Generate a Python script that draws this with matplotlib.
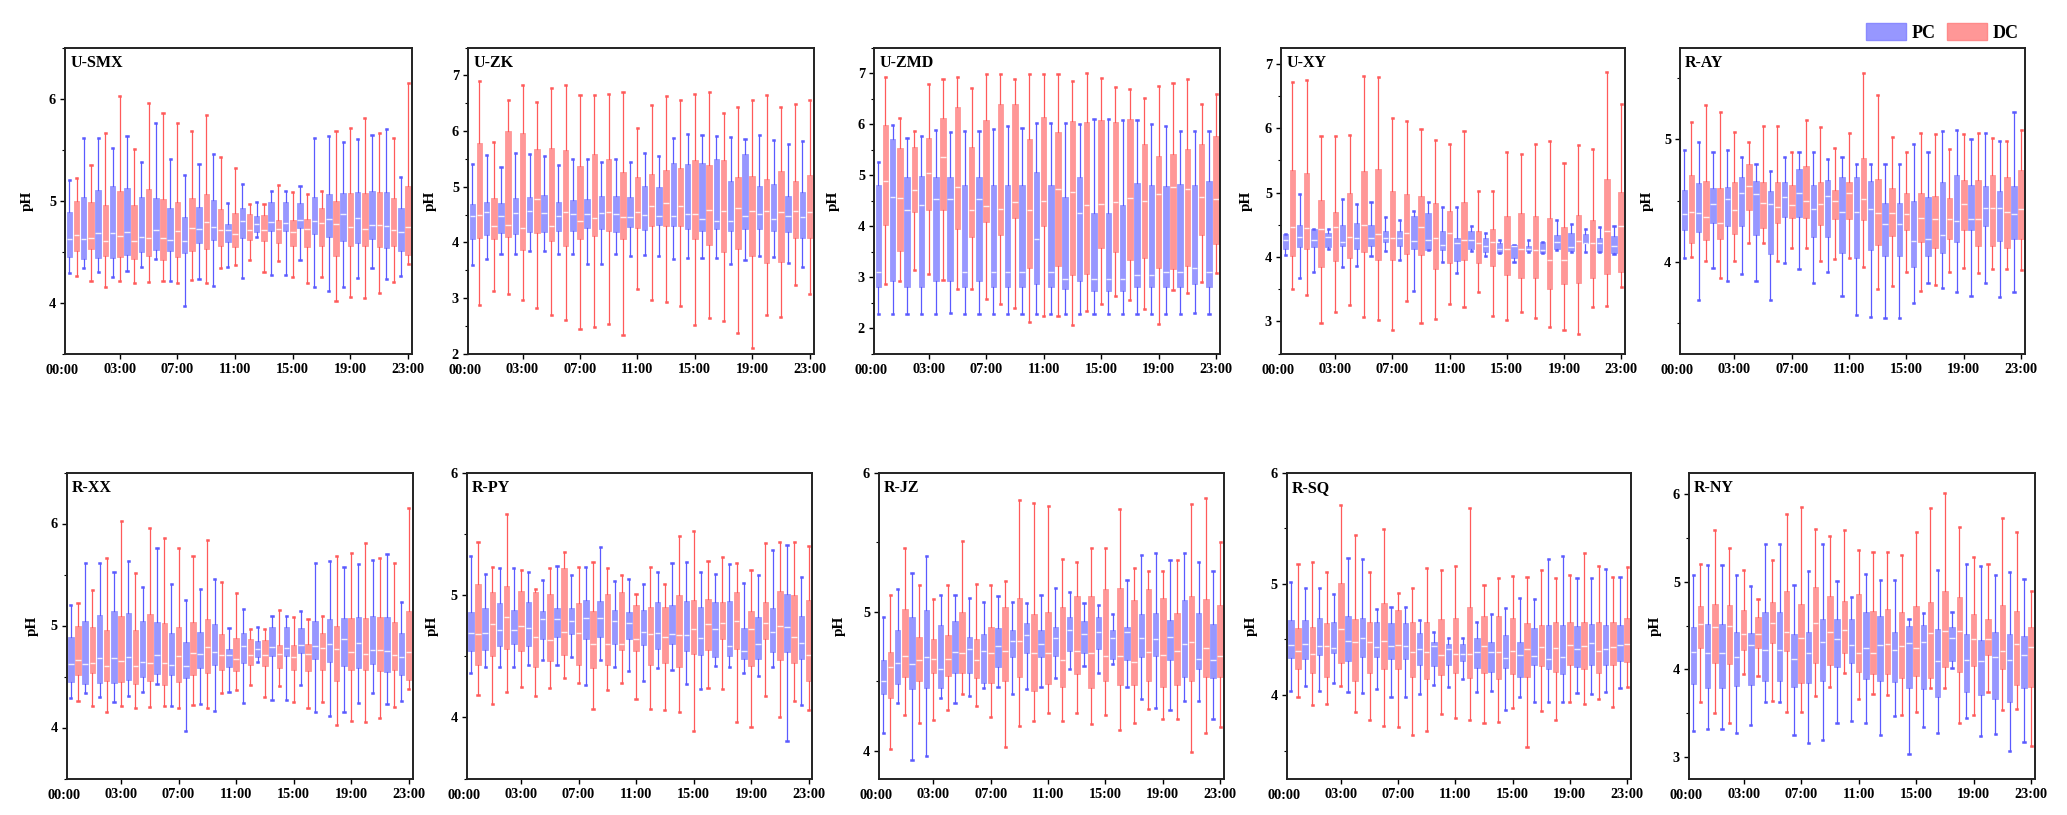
import matplotlib
matplotlib.use('Agg')
import matplotlib.pyplot as plt
from matplotlib.patches import Patch
from matplotlib.ticker import MultipleLocator

plt.rcParams['font.family'] = ['Liberation Serif', 'DejaVu Serif']
plt.rcParams['font.weight'] = 'bold'
plt.rcParams['axes.labelweight'] = 'bold'

# x axis labels (tick at 0 is drawn by hand, it sits just left of the frame)
tick_pos = [0, 4, 8, 12, 16, 20, 24]
tick_lab = ['00:00', '03:00', '07:00', '11:00', '15:00', '19:00', '23:00']

# every row: [whisker low, Q1, median, Q3, whisker high], one row per hour 0..23
USMX_PC = [
    [4.29, 4.45, 4.62, 4.89, 5.20], [4.34, 4.43, 4.62, 5.04, 5.61], [4.30, 4.44, 4.68, 5.10, 5.61],
    [4.25, 4.44, 4.68, 5.14, 5.52], [4.31, 4.47, 4.69, 5.12, 5.63], [4.35, 4.50, 4.64, 5.04, 5.38],
    [4.43, 4.52, 4.71, 5.03, 5.76], [4.21, 4.51, 4.61, 4.93, 5.41], [3.97, 4.49, 4.60, 4.84, 5.25],
    [4.23, 4.58, 4.72, 4.94, 5.36], [4.16, 4.61, 4.74, 5.01, 5.46], [4.35, 4.59, 4.71, 4.77, 4.98],
    [4.24, 4.63, 4.80, 4.93, 5.16], [4.64, 4.69, 4.77, 4.85, 4.99], [4.27, 4.70, 4.79, 4.99, 5.09],
    [4.27, 4.70, 4.78, 4.99, 5.09], [4.42, 4.73, 4.81, 4.98, 5.14], [4.15, 4.67, 4.80, 5.04, 5.61],
    [4.11, 4.64, 4.82, 5.06, 5.63], [4.15, 4.60, 4.87, 5.07, 5.57], [4.24, 4.58, 4.83, 5.08, 5.60],
    [4.34, 4.62, 4.76, 5.09, 5.64], [4.23, 4.54, 4.75, 5.08, 5.70], [4.26, 4.51, 4.69, 4.93, 5.23],
]
USMX_DC = [
    [4.26, 4.51, 4.66, 5.00, 5.22], [4.21, 4.53, 4.63, 4.99, 5.35], [4.15, 4.46, 4.60, 4.96, 5.66],
    [4.21, 4.45, 4.65, 5.09, 6.02], [4.19, 4.43, 4.60, 4.96, 5.51], [4.20, 4.46, 4.63, 5.11, 5.96],
    [4.21, 4.42, 4.63, 5.02, 5.86], [4.19, 4.45, 4.70, 4.99, 5.76], [4.22, 4.51, 4.73, 5.03, 5.68],
    [4.19, 4.53, 4.79, 5.06, 5.84], [4.34, 4.56, 4.71, 4.92, 5.43], [4.37, 4.55, 4.67, 4.88, 5.32],
    [4.42, 4.61, 4.71, 4.87, 4.97], [4.30, 4.60, 4.71, 4.86, 4.97], [4.41, 4.58, 4.72, 4.81, 5.15],
    [4.25, 4.56, 4.69, 4.81, 5.08], [4.19, 4.55, 4.72, 4.82, 5.06], [4.25, 4.56, 4.78, 4.93, 5.09],
    [4.02, 4.46, 4.77, 5.00, 5.68], [4.06, 4.56, 4.74, 5.07, 5.71], [4.05, 4.56, 4.72, 5.07, 5.81],
    [4.09, 4.55, 4.76, 5.08, 5.66], [4.20, 4.56, 4.71, 5.03, 5.61], [4.38, 4.47, 4.74, 5.14, 6.15],
]

UZK_PC = [
    [3.60, 4.06, 4.48, 4.69, 5.40], [3.70, 4.14, 4.54, 4.73, 5.57], [3.79, 4.17, 4.48, 4.70, 5.35],
    [3.79, 4.15, 4.52, 4.79, 5.61], [3.84, 4.18, 4.56, 4.82, 5.59], [3.84, 4.18, 4.52, 4.85, 5.55],
    [3.79, 4.21, 4.48, 4.73, 5.39], [3.79, 4.21, 4.51, 4.76, 5.50], [3.61, 4.26, 4.51, 4.77, 5.49],
    [3.61, 4.24, 4.52, 4.84, 5.45], [3.79, 4.18, 4.51, 4.83, 5.50], [3.75, 4.27, 4.46, 4.82, 5.45],
    [3.77, 4.23, 4.49, 5.01, 5.61], [3.75, 4.31, 4.48, 5.00, 5.55], [3.70, 4.29, 4.48, 5.43, 5.88],
    [3.72, 4.24, 4.51, 5.41, 5.95], [3.72, 4.20, 4.42, 5.42, 5.93], [3.72, 4.24, 4.38, 5.49, 5.91],
    [3.61, 4.20, 4.38, 5.10, 5.89], [3.68, 4.24, 4.48, 5.59, 5.86], [3.76, 4.24, 4.51, 5.01, 5.93],
    [3.74, 4.20, 4.42, 5.04, 5.83], [3.63, 4.19, 4.48, 4.83, 5.77], [3.55, 4.07, 4.45, 4.90, 5.82],
]
UZK_DC = [
    [2.87, 4.08, 4.49, 5.78, 6.89], [3.13, 4.06, 4.30, 4.79, 5.81], [3.08, 4.09, 4.31, 6.00, 6.56],
    [2.96, 3.86, 4.26, 5.96, 6.83], [2.82, 4.17, 4.77, 5.67, 6.52], [2.70, 4.03, 4.30, 5.70, 6.77],
    [2.61, 3.93, 4.55, 5.66, 6.82], [2.45, 4.06, 4.39, 5.38, 6.65], [2.48, 4.12, 4.43, 5.59, 6.65],
    [2.54, 4.20, 4.54, 5.49, 6.67], [2.33, 4.06, 4.46, 5.27, 6.70], [3.17, 4.26, 4.54, 5.18, 6.05],
    [2.97, 4.30, 4.66, 5.22, 6.46], [2.93, 4.30, 4.70, 5.30, 6.62], [2.85, 4.29, 4.66, 5.33, 6.55],
    [2.52, 4.06, 4.51, 5.48, 6.66], [2.65, 3.96, 4.58, 5.39, 6.70], [2.59, 3.82, 4.57, 5.48, 6.33],
    [2.38, 3.88, 4.61, 5.18, 6.44], [2.11, 3.76, 4.57, 5.19, 6.56], [2.69, 3.63, 4.57, 5.14, 6.64],
    [2.66, 3.64, 4.54, 5.28, 6.43], [3.23, 4.07, 4.57, 5.10, 6.48], [3.08, 4.07, 4.55, 5.21, 6.56],
]

UZMD_PC = [
    [2.27, 2.81, 3.10, 4.81, 5.25], [2.27, 2.92, 4.58, 5.71, 5.99], [2.27, 2.80, 4.31, 4.96, 5.73],
    [2.27, 2.80, 4.42, 4.99, 5.76], [2.27, 2.92, 4.53, 4.96, 5.88], [2.30, 2.92, 4.53, 4.96, 5.84],
    [2.27, 2.80, 3.10, 4.81, 5.86], [2.27, 2.92, 4.53, 4.96, 5.86], [2.27, 2.80, 3.10, 4.81, 5.90],
    [2.27, 2.80, 3.10, 4.81, 5.96], [2.27, 2.80, 3.10, 4.81, 5.92], [2.27, 2.86, 3.75, 5.07, 6.02],
    [2.27, 2.80, 3.10, 4.81, 6.03], [2.27, 2.77, 2.97, 4.58, 6.02], [2.27, 2.92, 4.26, 4.96, 6.01],
    [2.27, 2.73, 2.97, 4.26, 6.09], [2.27, 2.73, 2.97, 4.26, 6.09], [2.27, 2.73, 2.97, 4.42, 6.08],
    [2.27, 2.80, 3.04, 4.84, 6.08], [2.27, 2.80, 3.04, 4.81, 6.00], [2.27, 2.80, 3.10, 4.78, 5.97],
    [2.27, 2.80, 3.10, 4.83, 5.86], [2.30, 2.86, 3.18, 4.81, 5.86], [2.27, 2.80, 3.10, 4.88, 5.86],
]
UZMD_DC = [
    [2.87, 4.02, 4.89, 5.99, 6.92], [2.93, 3.51, 4.55, 5.53, 6.11], [3.14, 4.27, 4.71, 5.56, 5.87],
    [3.06, 4.32, 5.04, 5.73, 6.79], [2.95, 4.32, 5.36, 6.12, 6.88], [2.77, 3.95, 4.77, 6.33, 6.93],
    [2.77, 3.79, 4.32, 5.56, 6.71], [2.57, 4.09, 4.40, 6.07, 6.99], [2.47, 3.82, 4.34, 6.39, 6.99],
    [2.40, 4.16, 4.47, 6.39, 6.88], [2.12, 3.18, 4.31, 5.71, 6.99], [2.24, 4.00, 4.50, 6.14, 6.99],
    [2.24, 3.21, 4.73, 5.84, 6.99], [2.06, 3.04, 4.66, 6.05, 6.84], [2.33, 3.07, 4.42, 6.04, 7.00],
    [2.48, 3.57, 4.44, 6.07, 6.90], [2.63, 3.49, 4.47, 6.04, 6.73], [2.56, 3.33, 4.55, 6.09, 6.68],
    [2.37, 3.38, 4.49, 5.61, 6.52], [2.09, 3.18, 4.63, 5.38, 6.75], [2.74, 3.15, 4.77, 5.41, 6.80],
    [2.69, 3.21, 4.72, 5.52, 6.88], [2.90, 3.83, 4.57, 5.61, 6.39], [3.08, 3.65, 4.54, 5.77, 6.58],
]

UXY_PC = [
    [4.03, 4.12, 4.27, 4.35, 4.36], [3.67, 4.16, 4.31, 4.49, 4.98], [3.76, 4.16, 4.26, 4.43, 4.43],
    [4.13, 4.16, 4.31, 4.38, 4.43], [3.84, 4.17, 4.24, 4.49, 4.90], [3.86, 4.12, 4.30, 4.53, 4.83],
    [4.02, 4.17, 4.29, 4.49, 4.85], [4.09, 4.24, 4.30, 4.41, 4.62], [3.96, 4.17, 4.29, 4.40, 4.58],
    [3.47, 4.13, 4.25, 4.63, 4.71], [4.11, 4.11, 4.26, 4.68, 4.85], [3.93, 4.11, 4.18, 4.41, 4.77],
    [3.75, 3.94, 4.21, 4.29, 4.77], [4.10, 4.13, 4.26, 4.41, 4.48], [4.01, 4.07, 4.17, 4.29, 4.37],
    [4.06, 4.06, 4.13, 4.22, 4.27], [3.92, 3.99, 4.17, 4.18, 4.18], [4.07, 4.10, 4.12, 4.17, 4.27],
    [4.06, 4.06, 4.11, 4.23, 4.24], [4.11, 4.13, 4.24, 4.34, 4.57], [4.07, 4.09, 4.15, 4.38, 4.51],
    [4.07, 4.21, 4.21, 4.35, 4.43], [4.07, 4.08, 4.22, 4.30, 4.46], [4.05, 4.06, 4.17, 4.32, 4.48],
]
UXY_DC = [
    [3.50, 4.02, 4.47, 5.35, 6.72], [3.41, 4.12, 4.45, 5.31, 6.74], [2.97, 3.85, 4.43, 4.89, 5.87],
    [3.14, 3.94, 4.46, 4.70, 5.87], [3.26, 3.99, 4.31, 5.00, 5.90], [3.07, 4.07, 4.49, 5.33, 6.81],
    [3.03, 3.96, 4.35, 5.37, 6.80], [2.86, 3.95, 4.29, 5.02, 6.15], [3.31, 4.04, 4.38, 4.97, 6.11],
    [2.98, 4.03, 4.46, 4.94, 5.99], [3.04, 3.82, 4.29, 4.84, 5.82], [3.27, 3.90, 4.37, 4.72, 5.76],
    [3.22, 3.96, 4.26, 4.85, 5.96], [3.46, 3.91, 4.21, 4.41, 5.02], [3.09, 3.86, 4.24, 4.43, 5.03],
    [3.02, 3.72, 4.13, 4.63, 5.63], [3.15, 3.67, 4.13, 4.69, 5.60], [3.06, 3.67, 4.11, 4.63, 5.76],
    [2.91, 3.51, 3.96, 4.61, 5.80], [2.87, 3.58, 3.96, 4.46, 5.46], [2.81, 3.59, 4.25, 4.65, 5.74],
    [3.23, 3.68, 4.22, 4.57, 5.68], [3.24, 3.73, 4.41, 5.21, 6.87], [3.54, 3.77, 4.48, 5.01, 6.37],
]

RAY_PC = [
    [4.03, 4.26, 4.39, 4.59, 4.91], [3.69, 4.24, 4.40, 4.64, 4.98], [3.95, 4.32, 4.47, 4.60, 4.90],
    [3.84, 4.29, 4.51, 4.61, 4.91], [3.90, 4.29, 4.56, 4.69, 4.86], [3.84, 4.22, 4.55, 4.66, 4.80],
    [3.69, 4.06, 4.47, 4.58, 4.74], [3.99, 4.37, 4.53, 4.65, 4.86], [3.94, 4.37, 4.56, 4.76, 4.90],
    [3.83, 4.20, 4.43, 4.63, 4.90], [3.92, 4.20, 4.54, 4.67, 4.84], [3.72, 4.07, 4.41, 4.69, 4.86],
    [3.57, 4.03, 4.41, 4.69, 4.80], [3.55, 4.10, 4.43, 4.66, 4.80], [3.54, 4.05, 4.31, 4.48, 4.80],
    [3.54, 4.05, 4.31, 4.48, 4.80], [3.66, 3.96, 4.17, 4.50, 4.96], [3.83, 4.05, 4.19, 4.53, 4.90],
    [3.79, 4.07, 4.22, 4.65, 5.07], [3.75, 4.16, 4.33, 4.71, 5.08], [3.72, 4.26, 4.35, 4.63, 5.00],
    [3.83, 4.29, 4.44, 4.62, 5.05], [3.71, 4.17, 4.44, 4.58, 4.99], [3.75, 4.19, 4.39, 4.62, 5.22],
]
RAY_DC = [
    [4.04, 4.15, 4.41, 4.71, 5.14], [4.01, 4.18, 4.37, 4.66, 5.28], [3.87, 4.19, 4.32, 4.60, 5.22],
    [4.01, 4.23, 4.42, 4.65, 5.06], [4.15, 4.42, 4.62, 4.80, 4.98], [4.15, 4.28, 4.48, 4.65, 5.11],
    [4.01, 4.32, 4.45, 4.65, 5.11], [4.11, 4.36, 4.46, 4.63, 4.90], [4.11, 4.36, 4.50, 4.78, 5.16],
    [4.01, 4.30, 4.47, 4.65, 5.10], [4.02, 4.35, 4.50, 4.59, 4.93], [4.03, 4.35, 4.56, 4.65, 5.05],
    [3.96, 4.34, 4.51, 4.85, 5.54], [3.78, 4.14, 4.40, 4.68, 5.36], [3.80, 4.21, 4.40, 4.60, 5.02],
    [3.92, 4.26, 4.39, 4.56, 4.90], [3.76, 4.16, 4.36, 4.56, 5.05], [3.81, 4.11, 4.35, 4.54, 5.04],
    [3.92, 4.19, 4.35, 4.52, 4.92], [3.95, 4.26, 4.47, 4.67, 5.04], [3.91, 4.13, 4.35, 4.67, 5.05],
    [3.94, 4.13, 4.44, 4.71, 5.01], [3.94, 4.11, 4.41, 4.69, 4.99], [3.93, 4.19, 4.43, 4.75, 5.08],
]

RPY_PC = [
    [4.36, 4.54, 4.69, 4.86, 5.32], [4.41, 4.55, 4.69, 4.89, 5.17], [4.41, 4.58, 4.71, 4.93, 5.22],
    [4.41, 4.60, 4.71, 4.88, 5.22], [4.43, 4.58, 4.73, 4.94, 5.19], [4.47, 4.64, 4.80, 4.87, 5.12],
    [4.43, 4.66, 4.80, 4.89, 5.24], [4.49, 4.68, 4.79, 4.89, 5.16], [4.26, 4.64, 4.81, 4.96, 5.23],
    [4.47, 4.66, 4.81, 4.95, 5.39], [4.41, 4.60, 4.79, 4.88, 5.11], [4.38, 4.64, 4.77, 4.86, 5.13],
    [4.30, 4.59, 4.70, 4.88, 5.09], [4.40, 4.56, 4.69, 4.94, 5.19], [4.39, 4.60, 4.68, 4.92, 5.26],
    [4.27, 4.54, 4.67, 4.95, 5.27], [4.23, 4.51, 4.65, 4.90, 5.19], [4.42, 4.49, 4.72, 4.94, 5.17],
    [4.41, 4.50, 4.58, 4.95, 5.25], [4.36, 4.48, 4.54, 4.73, 5.10], [4.34, 4.48, 4.60, 4.82, 5.16],
    [4.41, 4.53, 4.70, 4.89, 5.37], [3.81, 4.53, 4.74, 5.01, 5.41], [4.10, 4.48, 4.61, 4.83, 5.15],
]
RPY_DC = [
    [4.18, 4.43, 4.68, 5.09, 5.43], [4.11, 4.50, 4.76, 5.02, 5.23], [4.21, 4.56, 4.82, 5.07, 5.66],
    [4.25, 4.54, 4.75, 5.03, 5.20], [4.17, 4.41, 4.66, 5.02, 5.05], [4.24, 4.46, 4.63, 5.01, 5.22],
    [4.32, 4.51, 4.70, 5.22, 5.35], [4.28, 4.43, 4.69, 4.93, 5.23], [4.07, 4.40, 4.60, 4.87, 5.27],
    [4.22, 4.43, 4.60, 5.01, 5.22], [4.28, 4.55, 4.60, 5.02, 5.16], [4.15, 4.54, 4.64, 4.92, 5.01],
    [4.07, 4.43, 4.68, 4.90, 5.23], [4.06, 4.44, 4.66, 4.90, 5.09], [4.04, 4.41, 4.67, 5.00, 5.48],
    [3.89, 4.52, 4.72, 4.96, 5.52], [4.24, 4.55, 4.76, 4.97, 5.28], [4.23, 4.64, 4.77, 4.94, 5.31],
    [3.96, 4.56, 4.79, 5.02, 5.26], [3.92, 4.42, 4.72, 4.87, 5.20], [4.17, 4.64, 4.77, 4.94, 5.42],
    [4.00, 4.47, 4.75, 5.03, 5.43], [4.13, 4.44, 4.66, 5.00, 5.43], [4.06, 4.30, 4.51, 4.96, 5.40],
]

RJZ_PC = [
    [4.13, 4.41, 4.50, 4.65, 4.96], [4.34, 4.48, 4.63, 4.87, 5.16], [3.93, 4.44, 4.62, 4.96, 5.28],
    [3.96, 4.45, 4.67, 5.01, 5.40], [4.38, 4.45, 4.59, 4.90, 5.12], [4.34, 4.56, 4.71, 4.93, 5.12],
    [4.39, 4.56, 4.73, 4.82, 5.10], [4.45, 4.49, 4.72, 4.84, 5.07], [4.46, 4.60, 4.75, 4.88, 5.11],
    [4.41, 4.67, 4.79, 4.87, 5.07], [4.44, 4.70, 4.83, 4.92, 5.06], [4.46, 4.67, 4.77, 4.87, 5.12],
    [4.52, 4.68, 4.81, 4.89, 5.17], [4.59, 4.72, 4.87, 4.96, 5.14], [4.61, 4.70, 4.84, 4.93, 5.06],
    [4.56, 4.73, 4.85, 4.96, 5.05], [4.62, 4.66, 4.81, 4.87, 4.98], [4.46, 4.65, 4.85, 4.89, 5.23],
    [4.37, 4.67, 4.81, 4.98, 5.41], [4.31, 4.68, 4.80, 4.99, 5.42], [4.29, 4.65, 4.82, 4.94, 5.37],
    [4.36, 4.53, 4.77, 5.08, 5.42], [4.36, 4.59, 4.66, 4.99, 5.36], [4.23, 4.52, 4.65, 4.91, 5.29],
]
RJZ_DC = [
    [4.01, 4.38, 4.60, 4.71, 5.12], [4.26, 4.53, 4.68, 5.02, 5.46], [4.20, 4.50, 4.65, 4.82, 5.19],
    [4.22, 4.56, 4.66, 4.80, 5.09], [4.29, 4.54, 4.66, 4.83, 5.19], [4.41, 4.56, 4.70, 5.00, 5.51],
    [4.32, 4.52, 4.65, 4.80, 5.20], [4.24, 4.49, 4.70, 4.89, 5.19], [4.03, 4.50, 4.72, 5.03, 5.22],
    [4.18, 4.53, 4.79, 5.10, 5.80], [4.21, 4.43, 4.70, 4.98, 5.78], [4.27, 4.48, 4.70, 5.00, 5.76],
    [4.21, 4.46, 4.65, 5.03, 5.38], [4.27, 4.55, 4.72, 5.11, 5.36], [4.19, 4.45, 4.70, 5.11, 5.46],
    [4.26, 4.50, 4.68, 5.16, 5.46], [4.15, 4.47, 4.68, 5.17, 5.74], [4.20, 4.47, 4.64, 5.08, 5.31],
    [4.30, 4.50, 4.71, 5.16, 5.29], [4.23, 4.46, 4.69, 5.10, 5.29], [4.23, 4.47, 4.72, 4.99, 5.37],
    [3.99, 4.50, 4.78, 5.11, 5.77], [4.13, 4.53, 4.74, 5.09, 5.82], [4.17, 4.53, 4.68, 5.05, 5.50],
]

RSQ_PC = [
    [4.04, 4.33, 4.45, 4.67, 5.02], [4.08, 4.32, 4.46, 4.67, 4.96], [4.04, 4.36, 4.44, 4.69, 4.96],
    [4.11, 4.38, 4.42, 4.66, 4.91], [4.03, 4.31, 4.49, 4.71, 5.23], [4.02, 4.34, 4.51, 4.69, 5.22],
    [4.05, 4.34, 4.43, 4.66, 4.77], [3.98, 4.32, 4.44, 4.65, 4.79], [3.98, 4.32, 4.44, 4.65, 4.79],
    [4.01, 4.27, 4.41, 4.56, 4.67], [4.09, 4.26, 4.44, 4.48, 4.57], [4.07, 4.27, 4.41, 4.46, 4.51],
    [4.14, 4.31, 4.37, 4.46, 4.51], [4.03, 4.24, 4.39, 4.51, 4.66], [4.04, 4.21, 4.39, 4.48, 4.73],
    [3.87, 4.24, 4.33, 4.54, 4.78], [3.98, 4.16, 4.36, 4.48, 4.87], [3.94, 4.27, 4.35, 4.60, 4.86],
    [3.94, 4.23, 4.32, 4.63, 5.22], [3.94, 4.19, 4.34, 4.63, 5.25], [4.02, 4.25, 4.41, 4.62, 5.05],
    [4.01, 4.27, 4.47, 4.64, 5.05], [4.03, 4.27, 4.41, 4.63, 5.13], [4.06, 4.31, 4.45, 4.63, 5.06],
]
RSQ_DC = [
    [3.98, 4.23, 4.40, 4.60, 5.18], [3.91, 4.20, 4.37, 4.61, 5.20], [3.92, 4.16, 4.44, 4.65, 5.11],
    [4.08, 4.29, 4.59, 5.01, 5.71], [3.85, 4.13, 4.48, 4.68, 5.44], [3.78, 4.20, 4.48, 4.66, 5.11],
    [3.72, 4.23, 4.49, 4.83, 5.49], [3.71, 4.23, 4.45, 4.76, 4.92], [3.64, 4.16, 4.39, 4.66, 4.96],
    [3.68, 4.14, 4.39, 4.66, 5.14], [3.83, 4.18, 4.36, 4.68, 5.12], [3.79, 4.20, 4.37, 4.69, 5.16],
    [3.78, 4.15, 4.37, 4.79, 5.68], [3.75, 4.20, 4.44, 4.71, 4.99], [3.76, 4.14, 4.39, 4.71, 5.05],
    [3.88, 4.19, 4.40, 4.69, 5.07], [3.53, 4.16, 4.41, 4.65, 5.06], [3.86, 4.26, 4.43, 4.63, 5.12],
    [3.78, 4.21, 4.42, 4.66, 5.05], [3.94, 4.27, 4.45, 4.66, 5.08], [3.92, 4.23, 4.44, 4.66, 5.28],
    [3.96, 4.20, 4.40, 4.66, 5.16], [3.89, 4.27, 4.43, 4.66, 5.06], [4.07, 4.30, 4.46, 4.69, 5.15],
]

RNY_PC = [
    [3.29, 3.83, 4.20, 4.48, 5.08], [3.32, 3.79, 4.19, 4.52, 5.19], [3.32, 3.79, 4.19, 4.52, 5.19],
    [3.27, 3.81, 4.14, 4.43, 5.08], [3.36, 3.82, 4.28, 4.41, 4.95], [3.62, 3.86, 4.22, 4.65, 5.43],
    [3.62, 3.86, 4.22, 4.65, 5.43], [3.25, 3.80, 4.12, 4.40, 4.96], [3.16, 3.84, 4.18, 4.42, 5.12],
    [3.19, 3.86, 4.31, 4.58, 5.43], [3.39, 4.02, 4.35, 4.58, 5.01], [3.41, 4.07, 4.28, 4.57, 4.83],
    [3.38, 3.89, 4.24, 4.65, 5.09], [3.25, 3.87, 4.28, 4.61, 5.02], [3.46, 3.85, 4.22, 4.42, 5.02],
    [3.03, 3.78, 4.30, 4.49, 4.58], [3.34, 3.77, 4.31, 4.51, 4.64], [3.27, 3.68, 4.09, 4.46, 5.14],
    [4.01, 4.09, 4.36, 4.48, 4.66], [3.44, 3.74, 4.11, 4.40, 5.20], [3.24, 3.71, 4.09, 4.33, 5.18],
    [3.26, 3.66, 4.14, 4.42, 5.08], [3.07, 3.63, 4.10, 4.40, 5.11], [3.17, 3.78, 4.16, 4.38, 5.03],
]
RNY_DC = [
    [3.62, 4.24, 4.52, 4.72, 5.20], [3.50, 4.07, 4.48, 4.75, 5.59], [3.39, 4.06, 4.49, 4.73, 5.39],
    [3.95, 4.22, 4.40, 4.68, 5.14], [3.92, 4.24, 4.40, 4.60, 4.80], [3.64, 4.30, 4.53, 4.77, 5.25],
    [3.51, 4.21, 4.43, 4.89, 5.78], [3.51, 3.84, 4.36, 4.75, 5.86], [3.69, 4.07, 4.53, 4.94, 5.60],
    [3.80, 4.05, 4.42, 4.84, 5.52], [3.96, 4.19, 4.45, 4.78, 5.59], [3.66, 3.97, 4.19, 4.86, 5.36],
    [3.72, 3.95, 4.18, 4.67, 5.34], [3.71, 3.95, 4.29, 4.69, 5.34], [3.48, 3.90, 4.27, 4.65, 5.31],
    [3.51, 3.92, 4.24, 4.72, 5.57], [3.78, 3.90, 4.41, 4.77, 5.84], [3.78, 4.02, 4.44, 4.89, 6.01],
    [3.39, 3.97, 4.44, 4.83, 5.63], [3.48, 4.04, 4.35, 4.63, 5.28], [3.74, 4.16, 4.35, 4.58, 5.20],
    [3.53, 4.00, 4.21, 4.73, 5.73], [3.54, 3.82, 4.29, 4.67, 5.57], [3.12, 3.80, 4.25, 4.48, 4.89],
]

W, H = 2067, 815
# (name, PC rows, DC rows, y limits, frame left/right/top/bottom in px, "pH" centre distance in px)
panels = [
    ('U-SMX', USMX_PC, USMX_DC, (3.5, 6.5), (65, 412, 47.5, 353.7), 39),
    ('U-ZK', UZK_PC, UZK_DC, (2.0, 7.5), (468, 813.5, 47.5, 353.7), 39),
    ('U-ZMD', UZMD_PC, UZMD_DC, (1.5, 7.5), (874, 1220, 47.5, 353.7), 42),
    ('U-XY', UXY_PC, UXY_DC, (2.5, 7.25), (1281, 1625, 47.5, 353.7), 36),
    ('R-AY', RAY_PC, RAY_DC, (3.25, 5.75), (1680, 2025, 47.5, 353.7), 34),
    ('R-XX', USMX_PC, USMX_DC, (3.5, 6.5), (66.5, 412.5, 472.5, 778.5), 35),
    ('R-PY', RPY_PC, RPY_DC, (3.5, 6.0), (466.5, 812.4, 472.5, 778.5), 35),
    ('R-JZ', RJZ_PC, RJZ_DC, (3.8, 6.0), (879, 1224, 472.5, 778.5), 41),
    ('R-SQ', RSQ_PC, RSQ_DC, (3.25, 6.0), (1286.5, 1631, 472.5, 778.5), 36),
    ('R-NY', RNY_PC, RNY_DC, (2.75, 6.25), (1689, 2035, 472.5, 778.5), 35),
]

pc_face, pc_line = '#9797ff', '#5a5aff'
dc_face, dc_line = '#ff9797', '#ff5a5a'


def to_stats(rows):
    return [dict(whislo=r[0], q1=r[1], med=r[2], q3=r[3], whishi=r[4], fliers=[]) for r in rows]


def draw(ax, rows, pos, face, line, med_col):
    ax.bxp(to_stats(rows), positions=pos, widths=0.38, patch_artist=True,
           showfliers=False, manage_ticks=False, capwidths=0.08,
           boxprops=dict(facecolor=face, edgecolor=face, linewidth=0.6),
           whiskerprops=dict(color=line, linewidth=0.9),
           capprops=dict(color=line, linewidth=1.8),
           medianprops=dict(color=med_col, linewidth=1.0))


fig = plt.figure(figsize=(W / 100, H / 100), dpi=100)

for name, pc, dc, ylim, (x0, x1, y0, y1), gap in panels:
    ax = fig.add_axes([x0 / W, 1 - y1 / H, (x1 - x0) / W, (y1 - y0) / H])
    hours = range(len(pc))
    draw(ax, pc, [h + 0.5 for h in hours], pc_face, pc_line, '#eeeeff')
    draw(ax, dc, [h + 1.0 for h in hours], dc_face, dc_line, '#ffeeee')

    ax.set_xlim(0.2, 24.27)
    ax.set_ylim(*ylim)
    ax.set_xticks(tick_pos[1:])
    ax.set_xticklabels(tick_lab[1:])
    ax.annotate(tick_lab[0], xy=(tick_pos[0], 0), xycoords=ax.get_xaxis_transform(),
                xytext=(0, -7.5), textcoords='offset points', ha='center', va='top',
                fontsize=10.3, fontweight='bold', annotation_clip=False)
    ax.yaxis.set_major_locator(MultipleLocator(1))
    ax.yaxis.set_minor_locator(MultipleLocator(0.5))
    ax.tick_params(axis='both', which='major', direction='out', length=3.5, width=1,
                   labelsize=10.3, pad=3)
    ax.tick_params(axis='y', which='minor', direction='out', length=2, width=0.8)
    for s in ax.spines.values():
        s.set_linewidth(1.4)
        s.set_color('#222222')
    ax.set_ylabel('pH', fontsize=11, fontweight='bold')
    ax.yaxis.set_label_coords(-(gap - 7.5) / (x1 - x0), 0.5)
    ax.text(0.015, 0.975, name, transform=ax.transAxes, ha='left', va='top',
            fontsize=11.5, fontweight='bold')

handles = [Patch(facecolor=pc_face, edgecolor='#8a8aff', label='PC'),
           Patch(facecolor=dc_face, edgecolor='#ff8a8a', label='DC')]
fig.legend(handles=handles, loc='upper right', bbox_to_anchor=(2028 / W, 1 - 14 / H),
           ncol=2, frameon=False, handlelength=2.2, handleheight=1.1,
           handletextpad=0.35, columnspacing=0.6, borderpad=0,
           prop=dict(weight='bold', size=13))

fig.savefig('out.png', dpi=100)
